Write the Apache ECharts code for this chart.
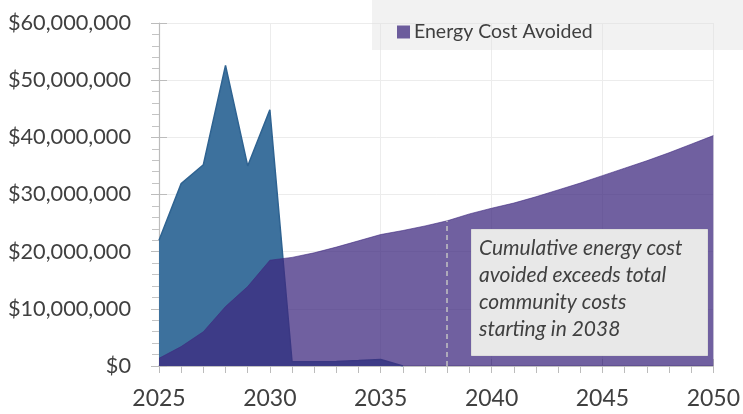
<!DOCTYPE html>
<html><head><meta charset="utf-8">
<script src="https://cdn.jsdelivr.net/npm/echarts@6/dist/echarts.min.js"></script>
<style>html,body{margin:0;padding:0;background:#fff}#c{width:743px;height:414px}</style>
</head><body><div id="c"></div>
<script>
// Years on the x axis
const years = [2025,2026,2027,2028,2029,2030,2031,2032,2033,2034,2035,2036,2037,2038,2039,2040,2041,2042,2043,2044,2045,2046,2047,2048,2049,2050];
// Community costs (millions of $), 2025-2036
const communityCostsM = [22.0,31.9,35.2,52.6,35.0,44.8,0.75,0.75,0.8,0.95,1.15,0];
// Cumulative energy cost avoided (millions of $), 2025-2050
const energyAvoidedM = [1.35,3.4,6.0,10.4,13.9,18.5,19.0,19.8,20.8,21.9,23.0,23.7,24.5,25.4,26.6,27.6,28.5,29.6,30.8,32.0,33.3,34.6,35.9,37.3,38.8,40.3];
const seriesNames = ['Community Costs','Energy Cost Avoided'];
const breakEvenYear = 2038;
const annotationLines = ['Cumulative energy cost','avoided exceeds total','community costs','starting in 2038'];

const costData = communityCostsM.map((v,i)=>[years[i], v*1e6]);
const avoidedData = energyAvoidedM.map((v,i)=>[years[i], v*1e6]);
const breakEvenVal = energyAvoidedM[years.indexOf(breakEvenYear)]*1e6;

const FONT = 'Lato';
const fmt = v => '$' + String(Math.round(v)).replace(/\B(?=(\d{3})+(?!\d))/g, ',');

const chart = echarts.init(document.getElementById('c'));
chart.setOption({
  animation:false,
  textStyle:{fontFamily:FONT},
  grid:{left:159,right:27,top:23,bottom:48,containLabel:false},
  legend:{
    data:[seriesNames[1]], left:392, top:17, itemWidth:13, itemHeight:13, itemGap:10,
    icon:'rect', textStyle:{fontFamily:FONT,fontSize:19.5,color:'#404040',padding:[0,0,0,-1]}
  },
  graphic:[
    {type:'rect', shape:{x:372,y:0,width:371,height:50}, style:{fill:'rgba(225,225,225,0.42)'}, z:1, silent:true},
    {type:'rect', shape:{x:471.5,y:229.5,width:236,height:126}, style:{fill:'#e8e8e8',stroke:'#dcdcdc',lineWidth:1}, z:100},
    {type:'text', x:479, y:235, z:101,
     style:{text:annotationLines.join('\n'), font:'italic 21px '+FONT, fill:'#404040', lineHeight:27}}
  ],
  xAxis:[{
    type:'value', min:2025, max:2050, interval:5,
    axisLine:{show:true,lineStyle:{color:'#b4b4b4',width:1.5}},
    axisTick:{show:true,length:7,lineStyle:{color:'#bcbcbc'}},
    minorTick:{show:true,splitNumber:5,length:7,lineStyle:{color:'#bcbcbc'}},
    splitLine:{show:true,lineStyle:{color:'#ececec'}},
    axisLabel:{fontFamily:FONT,fontSize:23,color:'#404040',margin:21,formatter:v=>String(v)}
  },{
    type:'value', min:2025, max:2050, interval:5, position:'bottom',
    axisLine:{show:false}, axisTick:{show:true,inside:true,length:7,lineStyle:{color:'#bcbcbc'}},
    axisLabel:{show:false}, splitLine:{show:false}
  }],
  yAxis:[{
    type:'value', min:0, max:60000000, interval:10000000,
    axisLine:{show:true,lineStyle:{color:'#bcbcbc',width:1.2}},
    axisTick:{show:true,length:8,lineStyle:{color:'#bcbcbc'}},
    minorTick:{show:true,splitNumber:5,length:7,lineStyle:{color:'#c4c4c4'}},
    splitLine:{show:true,lineStyle:{color:'#ececec'}},
    axisLabel:{fontFamily:FONT,fontSize:21.7,color:'#404040',margin:28,formatter:fmt}
  },{
    type:'value', min:0, max:60000000, interval:10000000, position:'left',
    axisLine:{show:false}, axisTick:{show:true,inside:true,length:8,lineStyle:{color:'#bcbcbc'}},
    axisLabel:{show:false}, splitLine:{show:false}
  }],
  series:[
    {name:seriesNames[0], type:'line', data:costData, symbol:'none', z:2,
     lineStyle:{color:'#2f6391',width:1.5}, itemStyle:{color:'#3d719d'},
     areaStyle:{color:'#3d719d',opacity:1}},
    {name:seriesNames[1], type:'line', data:avoidedData, symbol:'none', z:3,
     lineStyle:{color:'rgba(62,40,127,0.6)',width:1}, itemStyle:{color:'rgba(62,40,127,0.74)'},
     areaStyle:{color:'rgba(62,40,127,0.74)',opacity:1},
     markLine:{silent:true, symbol:'none', label:{show:false},
       lineStyle:{color:'#c4c4c4',type:[5,4],width:1.5},
       data:[[{coord:[breakEvenYear,0]},{coord:[breakEvenYear,breakEvenVal]}]]}}
  ]
});
</script></body></html>
